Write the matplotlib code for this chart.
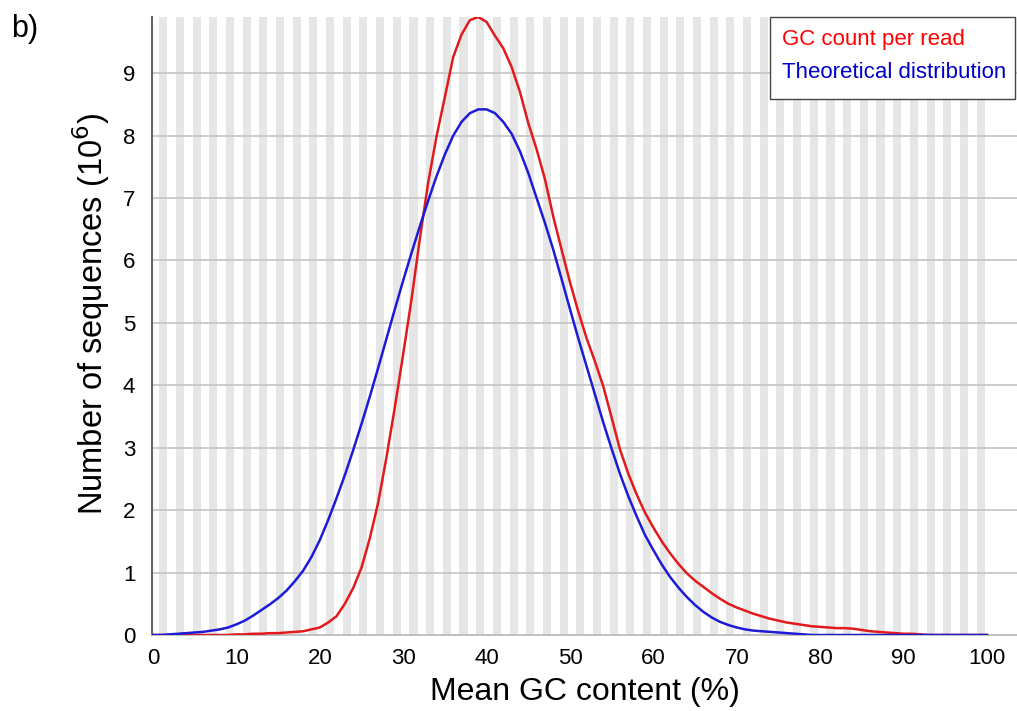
import numpy as np
import matplotlib
matplotlib.use("Agg")
import matplotlib.pyplot as plt
from matplotlib.patches import Rectangle

plt.rcParams['font.family'] = ['Liberation Sans', 'DejaVu Sans']

# mean GC content (%) bins
gc = list(range(0, 101))

# GC count per read (10^6 sequences)
gc_count = [0.0, 0.0, 0.0, 0.0, 0.0, 0.0, 0.0, 0.0, 0.0, 0.0,
            0.01, 0.01, 0.02, 0.02, 0.03, 0.03, 0.04, 0.05, 0.06, 0.09,
            0.12, 0.2, 0.3, 0.5, 0.75, 1.08, 1.55, 2.12, 2.85, 3.65,
            4.5, 5.38, 6.35, 7.25, 7.99, 8.62, 9.26, 9.62, 9.85, 9.9,
            9.82, 9.6, 9.4, 9.1, 8.7, 8.2, 7.78, 7.3, 6.7, 6.17,
            5.65, 5.18, 4.75, 4.38, 3.98, 3.48, 2.97, 2.58, 2.25, 1.96,
            1.72, 1.5, 1.31, 1.14, 0.99, 0.87, 0.77, 0.67, 0.58, 0.5,
            0.44, 0.39, 0.34, 0.3, 0.26, 0.23, 0.2, 0.18, 0.16, 0.14,
            0.13, 0.12, 0.11, 0.11, 0.1, 0.08, 0.06, 0.05, 0.04, 0.03,
            0.02, 0.02, 0.01, 0.0, 0.0, 0.0, 0.0, 0.0, 0.0, 0.0, 0.0]

# theoretical distribution
theory = [0.0, 0.0, 0.01, 0.02, 0.03, 0.04, 0.05, 0.07, 0.09, 0.12,
          0.17, 0.23, 0.31, 0.4, 0.49, 0.59, 0.71, 0.86, 1.03, 1.25,
          1.52, 1.84, 2.19, 2.56, 2.96, 3.38, 3.82, 4.28, 4.75, 5.22,
          5.68, 6.12, 6.55, 6.96, 7.35, 7.7, 8.0, 8.22, 8.36, 8.42,
          8.42, 8.36, 8.22, 8.03, 7.75, 7.4, 7.0, 6.6, 6.17, 5.7,
          5.22, 4.75, 4.3, 3.85, 3.4, 2.98, 2.58, 2.22, 1.9, 1.6,
          1.36, 1.13, 0.93, 0.76, 0.61, 0.48, 0.37, 0.28, 0.21, 0.16,
          0.12, 0.09, 0.07, 0.06, 0.05, 0.04, 0.03, 0.02, 0.01, 0.0,
          0.0, 0.0, 0.0, 0.0, 0.0, 0.0, 0.0, 0.0, 0.0, 0.0,
          0.0, 0.0, 0.0, 0.0, 0.0, 0.0, 0.0, 0.0, 0.0, 0.0, 0.0]

xticks = [0, 10, 20, 30, 40, 50, 60, 70, 80, 90, 100]
yticks = [0, 1, 2, 3, 4, 5, 6, 7, 8, 9]

fig = plt.figure(figsize=(10.17, 7.11), dpi=100)
ax = fig.add_axes([152/1017, 1-635/711, 1-152/1017, (635-17)/711])

# alternating background stripes
for k in range(50):
    ax.axvspan(2*k+0.75, 2*k+1.72, color='#e6e6e6', lw=0, zorder=0)

for v in yticks[1:]:
    ax.axhline(v, color='#c8c8c8', lw=1.3, zorder=1)

ax.plot(gc, gc_count, color='#e31a1c', lw=1.8, zorder=3)
ax.plot(gc, theory, color='#1c1cd6', lw=1.8, zorder=3)

ax.set_xlim(-0.12, 103.6)
ax.set_ylim(0, 9.9)
ax.set_xticks(xticks)
ax.set_yticks(yticks)
ax.tick_params(length=0, labelsize=16)
ax.tick_params(axis='y', pad=12)
ax.tick_params(axis='x', pad=9)

for s in ['top', 'right']:
    ax.spines[s].set_visible(False)
ax.spines['left'].set_color('#666666')
ax.spines['left'].set_linewidth(1.5)
ax.spines['bottom'].set_color('#bbbbbb')
ax.spines['bottom'].set_linewidth(1.3)

ax.set_xlabel('Mean GC content (%)', fontsize=23, labelpad=6)
ax.set_ylabel('Number of sequences (10$^6$)', fontsize=23.5, labelpad=8)
ax.yaxis.label.set_y(0.52)

# legend box
fig.patches.append(Rectangle((770/1017, 1-99/711), 245/1017, 82/711,
                             transform=fig.transFigure, facecolor='white',
                             edgecolor='#444444', lw=1.0, zorder=5))
fig.text(782/1017, 1-40/711, 'GC count per read', color='#ff0000',
         fontsize=16, va='center', zorder=6)
fig.text(782/1017, 1-72/711, 'Theoretical distribution', color='#0000cc',
         fontsize=16, va='center', zorder=6)

fig.text(11/1017, 1-14/711, 'b)', fontsize=22, va='top')

fig.savefig('out.png', dpi=100)
